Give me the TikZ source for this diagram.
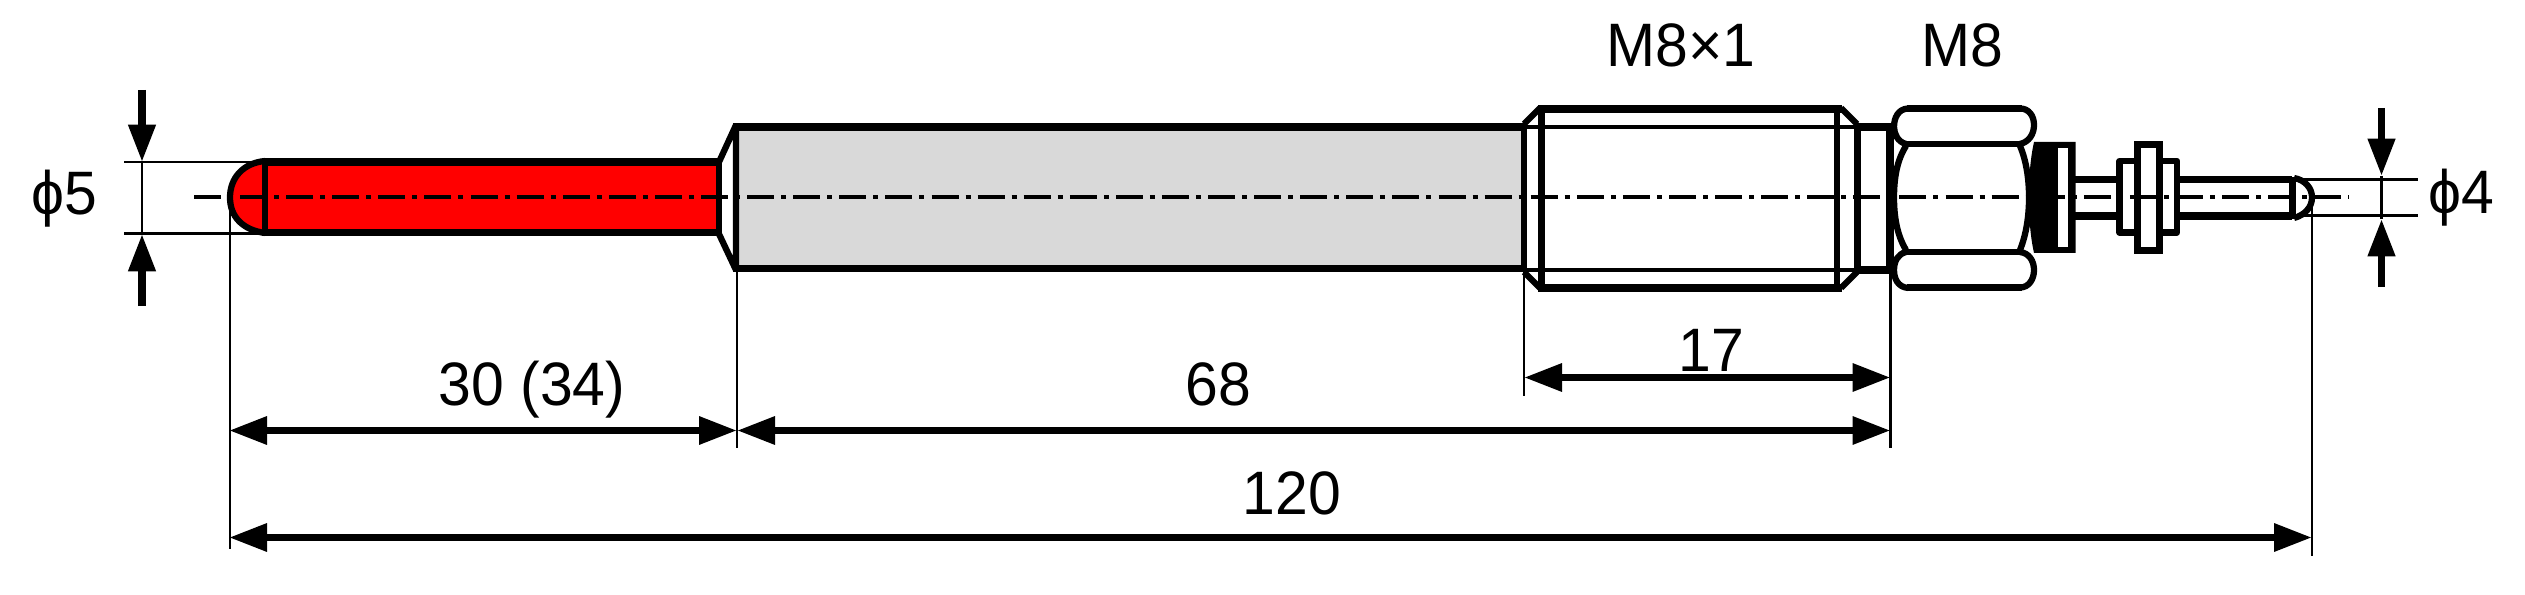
\documentclass[tikz,border=0pt]{standalone}
\usepackage{fontspec}
\setmainfont[FakeStretch=0.96]{Liberation Sans}
\usetikzlibrary{arrows.meta}
\definecolor{hotred}{HTML}{FF0000}
\definecolor{bodygray}{HTML}{D9D9D9}
\tikzset{
  heavy/.style={line width=5.5pt,line cap=butt,line join=miter},
  medium/.style={line width=4.7pt,line join=round},
  fineline/.style={line width=3.2pt},
  extline/.style={line width=2pt},
  dimline/.style={line width=5.5pt,{Triangle[length=28.5pt,width=20pt]}-{Triangle[length=28.5pt,width=20pt]}},
  inarrow/.style={line width=5.5pt,-{Triangle[length=28pt,width=19.5pt]}},
  centerline/.style={line width=3pt,dash pattern=on 20.25pt off 5.25pt on 3.75pt off 5.32pt},
  dimtext/.style={anchor=base,inner sep=0pt,font=\fontsize{46pt}{46pt}\selectfont}
}
\begin{document}
\begin{tikzpicture}[x=0.75pt,y=-0.75pt]
\useasboundingbox (0,0) rectangle (2525,595);
% named reference points
\coordinate (tipL) at (230,197.5);
\coordinate (shoulder) at (737,270);
\coordinate (threadL) at (1524,272);
\coordinate (nutL) at (1890.5,272);
\coordinate (tipR) at (2312,197.5);
\coordinate (extTipLow) at (230,549);
\coordinate (extShoulderLow) at (737,448);
\coordinate (extThreadLow) at (1524,396);
\coordinate (extNutLow) at (1890.5,448);
\coordinate (extTipRLow) at (2312,556);
\coordinate (a30L) at (229,430.5);
\coordinate (a30R) at (737,430.5);
\coordinate (a68R) at (1890.5,430.5);
\coordinate (a17L) at (1524,377.5);
\coordinate (a17R) at (1890.5,377.5);
\coordinate (a120L) at (229,537.5);
\coordinate (a120R) at (2312,537.5);
% fills
\fill[hotred] (265,162) .. controls (243,164) and (230,178) .. (230,197.5) .. controls (230,217) and (243,231) .. (265,233) -- (719,233) -- (719,162) -- cycle;
\fill[bodygray] (736,127) rectangle (1524,268.5);
% glow rod
\draw[medium] (265,161) .. controls (243,163) and (230,178) .. (230,197.5) .. controls (230,217) and (243,230) .. (265,233);
\draw[heavy] (262,162) -- (719,162) (262,232.5) -- (719,232.5);
\draw[medium] (265,160) -- (265,235) (719,159) -- (719,236);
% chamfer and body
\draw[medium] (719,162) -- (736,125) (719,234) -- (736,270) (736,124) -- (736,271);
\draw[heavy] (733,127) -- (1524,127) (733,268.5) -- (1524,268.5);
% thread
\draw[medium] (1524,124) -- (1524,272);
\draw[medium] (1524,124) -- (1540,108) (1524,272) -- (1540,288) (1857,124) -- (1841,108) (1857,272) -- (1841,288);
\draw[heavy] (1538,109) -- (1842,109) (1538,288) -- (1842,288);
\draw[line width=4.9pt] (1541.7,107) -- (1541.7,290) (1837,107) -- (1837,290);
\draw[fineline] (1524,127) -- (1857,127) (1524,270) -- (1857,270);
\draw[line width=5.25pt] (1857,123) -- (1857,272);
% neck
\draw[heavy] (1857,127) -- (1890,127) (1857,270) -- (1890,270);
\draw[line width=5.6pt] (1890,123) -- (1890,272);
% hex nut
\draw[medium] (1908,108.5) .. controls (1898,109) and (1894,118) .. (1894,127) .. controls (1894,134) and (1898,142) .. (1906,144);
\draw[medium] (1906,146) .. controls (1897,160) and (1894,178) .. (1894,197.5) .. controls (1894,217) and (1897,235) .. (1906,250);
\draw[medium] (1906,252) .. controls (1898,254) and (1894,261) .. (1894,270) .. controls (1894,279) and (1898,287) .. (1908,288);
\draw[medium] (1907,108.5) -- (2022,108.5) (1905,144) -- (2022,144) (1905,252) -- (2022,252) (1907,287.5) -- (2022,287.5);
\draw[medium] (2020,108.5) .. controls (2029,108.5) and (2034,116) .. (2034,125) .. controls (2034,134) and (2029,142) .. (2020,144);
\draw[medium] (2020,252) .. controls (2029,253) and (2034,261) .. (2034,270) .. controls (2034,279) and (2029,287.5) .. (2020,287.5);
\draw[medium] (2020,146) .. controls (2026,160) and (2029,178) .. (2029,197.5) .. controls (2029,217) and (2026,235) .. (2020,250);
% black collar
\fill (2034,142) -- (2075.5,142) -- (2075.5,253) -- (2034,253) .. controls (2030,235) and (2029,217) .. (2029,197.5) .. controls (2029,178) and (2030,160) .. (2034,142) -- cycle;
\fill[white] (2058,148) rectangle (2068,247);
% stem
\draw[heavy] (2074,179.5) -- (2118,179.5) (2074,216) -- (2118,216) (2178,179.5) -- (2292,179.5) (2178,216) -- (2292,216);
\draw[line width=5.25pt] (2292,177) -- (2292,219);
\draw[medium] (2119.5,161) rectangle (2177,232.5);
\draw[line width=5.25pt,fill=white] (2137.5,144.5) rectangle (2159,251);
% stem tip
\draw[medium] (2294,178) .. controls (2305,180) and (2312,188) .. (2312,197.5) .. controls (2312,207) and (2305,215) .. (2294,218);
% centre line
\draw[centerline] (194,197.5) -- (2349,197.5);
% extension lines
\draw[extline] (tipL) -- (extTipLow);
\draw[extline] (shoulder) -- (extShoulderLow);
\draw[extline] (threadL) -- (extThreadLow);
\draw[extline] (nutL) -- (extNutLow);
\draw[extline] (tipR) -- (extTipRLow);
\coordinate (d5a) at (124,162); \coordinate (d5ae) at (265,162);
\coordinate (d5b) at (124,233.5); \coordinate (d5be) at (265,233.5);
\coordinate (d4a) at (2294,179.5); \coordinate (d4ae) at (2418,179.5);
\coordinate (d4b) at (2294,215.5); \coordinate (d4be) at (2418,215.5);
\draw[extline] (d5a) -- (d5ae);
\draw[extline] (d5b) -- (d5be);
\draw[extline] (d4a) -- (d4ae);
\draw[extline] (d4b) -- (d4be);
% diameter arrows
\coordinate (p5top) at (142,90); \coordinate (p5tt) at (142,162);
\coordinate (p5bot) at (142,306); \coordinate (p5bt) at (142,234);
\draw[inarrow] (p5top) -- (p5tt);
\draw[inarrow] (p5bot) -- (p5bt);
\draw[extline] (p5tt) -- (p5bt);
\coordinate (p4top) at (2381.5,108); \coordinate (p4tt) at (2381.5,176);
\coordinate (p4bot) at (2381.5,287); \coordinate (p4bt) at (2381.5,219);
\draw[inarrow] (p4top) -- (p4tt);
\draw[inarrow] (p4bot) -- (p4bt);
\draw[line width=2.2pt] (p4tt) -- (p4bt);
% length arrows
\draw[dimline] (a30L) -- (a30R);
\draw[dimline] (a30R) -- (a68R);
\draw[dimline] (a17L) -- (a17R);
\draw[dimline] (a120L) -- (a120R);
% texts
\node[dimtext] (t5) at (64,214.5) {ϕ5};
\node[dimtext] (t4) at (2461,214) {ϕ4};
\node[dimtext] (tm81) at (1681,66.7) {M8×1};
\node[dimtext] (tm8) at (1962,66.7) {M8};
\node[dimtext] (t30) at (532,405) {30 (34)};
\node[dimtext] (t68) at (1218,405) {68};
\node[dimtext] (t17) at (1711,371) {17};
\node[dimtext] (t120) at (1292,514.5) {120};
\end{tikzpicture}
\end{document}
